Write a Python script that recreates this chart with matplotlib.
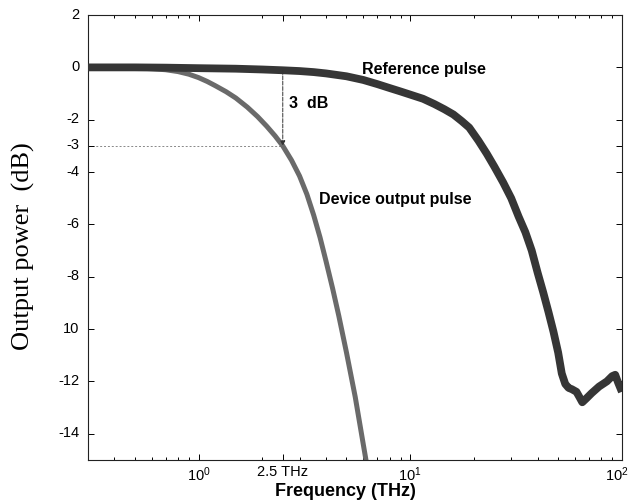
import matplotlib
matplotlib.use("Agg")
import matplotlib.pyplot as plt
import matplotlib.transforms as mtransforms
from matplotlib.ticker import FixedLocator, FixedFormatter, LogLocator, NullFormatter

plt.rcParams['font.family'] = ['Liberation Sans', 'DejaVu Sans']
plt.rcParams['mathtext.fontset'] = 'custom'
plt.rcParams['mathtext.rm'] = 'Liberation Sans'
plt.rcParams['mathtext.it'] = 'Liberation Sans'

# Reference pulse spectrum
ref_f = [0.3, 0.5, 0.7, 1.0, 1.5, 2.0, 2.5, 3.0, 3.5, 4.0, 5.0, 6.0, 7.0, 8.0, 9.0,
         10.0, 11.5, 13.0, 14.5, 16.0, 17.5, 19.0, 21.0, 23.0, 25.0, 27.5, 30.0,
         32.5, 35.0, 37.5, 40.0, 42.5, 45.0, 47.5, 50.0, 52.0, 54.0, 56.0, 58.0,
         61.0, 63.0, 65.0, 68.0, 72.0, 78.0, 85.0, 90.0, 93.0, 96.0, 100.0]
ref_db = [0.0, 0.0, -0.01, -0.03, -0.05, -0.08, -0.11, -0.14, -0.18, -0.23, -0.34,
          -0.48, -0.64, -0.79, -0.92, -1.04, -1.2, -1.4, -1.6, -1.8, -2.05, -2.3,
          -2.8, -3.3, -3.8, -4.4, -5.0, -5.7, -6.3, -7.0, -7.85, -8.6, -9.35,
          -10.1, -10.9, -11.7, -12.1, -12.25, -12.3, -12.4, -12.6, -12.8, -12.65,
          -12.45, -12.2, -12.0, -11.8, -11.75, -12.05, -12.4]

# Device output pulse spectrum
dev_f = [0.3, 0.4, 0.5, 0.6, 0.7, 0.8, 0.9, 1.0, 1.1, 1.2, 1.35, 1.5, 1.7, 1.9,
         2.1, 2.3, 2.5, 2.75, 3.0, 3.25, 3.5, 3.75, 4.0, 4.3, 4.6, 5.0, 5.5, 6.0, 6.3]
dev_db = [0.0, 0.0, -0.02, -0.05, -0.09, -0.16, -0.26, -0.39, -0.54, -0.7, -0.93,
          -1.17, -1.52, -1.88, -2.25, -2.62, -3.0, -3.55, -4.15, -4.85, -5.65, -6.5,
          -7.4, -8.45, -9.5, -10.9, -12.6, -14.4, -15.4]

y_ticks = [2, 0, -2, -3, -4, -6, -8, -10, -12, -14]
y_labels = ['2', '0', '-2', '-3', '-4', '-6', '-8', '10', '-12', '-14']
x_ticks = [1, 2.5, 10, 100]
x_labels = [r'$10^0$', '2.5 THz', r'$10^1$', r'$10^2$']

fig = plt.figure(figsize=(6.32, 5.02), dpi=100)
ax = fig.add_axes([0.139, 0.082, 0.845, 0.886])

ax.plot(dev_f, dev_db, color='#6a6a6a', lw=3.6, solid_capstyle='butt',
        solid_joinstyle='round', zorder=2)
ax.plot(ref_f, ref_db, color='#363636', lw=5.6, solid_capstyle='butt',
        solid_joinstyle='round', zorder=3)

ax.set_xscale('log')
ax.set_xlim(0.3, 100)
ax.set_ylim(-15, 2)

ax.xaxis.set_major_locator(FixedLocator(x_ticks))
ax.xaxis.set_major_formatter(FixedFormatter(x_labels))
ax.xaxis.set_minor_locator(LogLocator(base=10, subs=range(2, 10)))
ax.xaxis.set_minor_formatter(NullFormatter())
ax.yaxis.set_major_locator(FixedLocator(y_ticks))
ax.yaxis.set_major_formatter(FixedFormatter(y_labels))

ax.tick_params(axis='both', which='both', direction='in', top=True, right=True,
               labelsize=10.5, width=0.7)
ax.tick_params(axis='both', which='major', length=4)
ax.tick_params(axis='both', which='minor', length=2.5)
ax.tick_params(axis='y', pad=6)
ax.tick_params(axis='x', pad=3)
for s in ax.spines.values():
    s.set_linewidth(0.8)
    s.set_color('#222222')

fig.canvas.draw()
up = mtransforms.ScaledTranslation(0, 3 / 100, fig.dpi_scale_trans)
for lbl in ax.get_yticklabels():
    lbl.set_transform(lbl.get_transform() + up)
left = mtransforms.ScaledTranslation(-5 / 100, 0, fig.dpi_scale_trans)
xl = ax.get_xticklabels()
xl[-1].set_transform(xl[-1].get_transform() + left)

# 3 dB marker
ax.plot([0.3, 2.5], [-3, -3], color='#888888', lw=0.7, ls=(0, (2, 2)), zorder=1)
ax.annotate('', xy=(2.5, -3.0), xytext=(2.5, -0.12),
            arrowprops=dict(arrowstyle='-|>', color='#333333', lw=0.7,
                            ls=(0, (4, 1.5)), mutation_scale=7, shrinkA=0, shrinkB=0))
ax.text(2.67, -1.34, '3  dB', fontsize=11.5, fontweight='bold', ha='left', va='center')
ax.text(5.93, -0.06, 'Reference pulse', fontsize=11.5, fontweight='bold', ha='left', va='center')
ax.text(3.71, -5.02, 'Device output pulse', fontsize=11.5, fontweight='bold', ha='left', va='center')

fig.text(0.546, 0.02, 'Frequency (THz)', fontsize=13, fontweight='bold', ha='center', va='center')
fig.text(0.037, 0.51, 'Output power  (dB)', fontsize=19, family=['Liberation Serif'],
         rotation=90, ha='center', va='center')

fig.savefig('out.png', dpi=100)
